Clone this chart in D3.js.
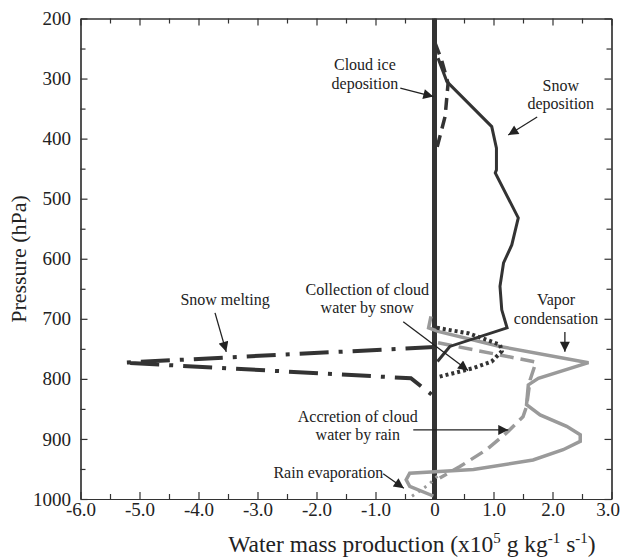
<!DOCTYPE html>
<html>
<head>
<meta charset="utf-8">
<script src="https://cdn.jsdelivr.net/npm/d3@7"></script>
<style>
  body { margin: 0; background: #fff; }
  svg text { font-family: "Liberation Serif", "Times New Roman", serif; }
</style>
</head>
<body>
<svg id="chartSVG" width="621" height="558"></svg>
<script>
// axis ticks
const xTicks = [-6, -5, -4, -3, -2, -1, 0, 1, 2, 3];
const yTicks = [200, 300, 400, 500, 600, 700, 800, 900, 1000];

// snow deposition (dark solid)
const snowDepP = [266, 305, 380, 416, 452, 457, 532, 577, 607, 646, 685, 715, 746, 771];
const snowDepX = [0.06, 0.21, 0.97, 1.05, 1.05, 1.03, 1.42, 1.31, 1.17, 1.11, 1.14, 1.23, 0.26, 0.05];

// cloud ice deposition (dark dashed)
const cloudIceP = [241, 269, 308, 363, 397, 416];
const cloudIceX = [0.01, 0.12, 0.23, 0.18, 0.09, 0.04];

// snow melting (dark dash-dot)
const meltP = [747, 773, 799, 826];
const meltX = [0.0, -5.27, -0.4, -0.05];

// collection of cloud water by snow (dark dotted)
const collectP = [715, 724, 743, 754, 771, 782, 797];
const collectX = [0.04, 0.57, 1.11, 1.14, 0.97, 0.66, 0.06];

// vapor condensation (gray solid)
const vaporP = [696, 715, 721, 746, 773, 799, 810, 843, 860, 879, 893, 904, 918, 935, 951, 957, 968, 979, 995];
const vaporX = [-0.06, -0.1, 0.06, 1.11, 2.61, 1.76, 1.59, 1.56, 1.79, 2.24, 2.47, 2.47, 2.18, 1.67, 0.66, -0.42, -0.48, -0.42, -0.02];

// accretion of cloud water by rain (gray dashed)
const accretP = [740, 772, 802, 846, 863, 890, 918, 946, 965];
const accretX = [0.06, 1.72, 1.62, 1.56, 1.5, 1.22, 0.88, 0.43, 0.09];

// rain evaporation (gray dotted)
const evapP = [962, 976, 990, 1000];
const evapX = [0.05, -0.1, -0.3, -0.45];

const dark = "#333";
const gray = "#9a9a9a";
const serif = "Liberation Serif";

const margin = { top: 18.5, right: 9.5, bottom: 59, left: 80.5 };
const width = 621 - margin.left - margin.right;
const height = 558 - margin.top - margin.bottom;

const svg = d3.select("#chartSVG");
const g = svg.append("g").attr("transform", `translate(${margin.left},${margin.top})`);

const x = d3.scaleLinear().domain([-6, 3]).range([0, width]);
const y = d3.scaleLinear().domain([200, 1000]).range([0, height]);

const halves = (lo, hi, step) => d3.range(lo, hi + 1e-9, step);
const xMinor = halves(-6, 3, 0.5).filter(v => !Number.isInteger(v));
const yMinor = halves(200, 1000, 50).filter(v => v % 100 !== 0);

// plain hyphen minus, like the original
const fmtX = d => (d === 0 ? "0" : (d < 0 ? "-" : "") + Math.abs(d).toFixed(1));

// major axes with labels
const xAxisG = g.append("g").attr("transform", `translate(0,${height})`)
  .call(d3.axisBottom(x).tickValues(xTicks).tickFormat(fmtX).tickSizeInner(-7).tickSizeOuter(0).tickPadding(3.5));
xAxisG.selectAll("text").attr("font-size", 19).attr("font-family", serif).attr("fill", "#222");
// keep the last label inside the window
xAxisG.selectAll(".tick").filter(d => d === 3).select("text").attr("dx", -4);

g.append("g")
  .call(d3.axisLeft(y).tickValues(yTicks).tickFormat(d3.format("d")).tickSizeInner(-7).tickSizeOuter(0).tickPadding(9.5))
  .call(a => a.selectAll("text").attr("font-size", 19).attr("font-family", serif).attr("fill", "#222"));
g.append("g")
  .call(d3.axisTop(x).tickValues(xTicks).tickFormat("").tickSizeInner(-7).tickSizeOuter(0));
g.append("g").attr("transform", `translate(${width},0)`)
  .call(d3.axisRight(y).tickValues(yTicks).tickFormat("").tickSizeInner(-7).tickSizeOuter(0));

// minor ticks
g.append("g").attr("transform", `translate(0,${height})`)
  .call(d3.axisBottom(x).tickValues(xMinor).tickFormat("").tickSizeInner(-5).tickSizeOuter(0));
g.append("g")
  .call(d3.axisTop(x).tickValues(xMinor).tickFormat("").tickSizeInner(-5).tickSizeOuter(0));
g.append("g")
  .call(d3.axisLeft(y).tickValues(yMinor).tickFormat("").tickSizeInner(-5).tickSizeOuter(0));
g.append("g").attr("transform", `translate(${width},0)`)
  .call(d3.axisRight(y).tickValues(yMinor).tickFormat("").tickSizeInner(-5).tickSizeOuter(0));

g.selectAll(".domain, .tick line").attr("stroke", "#333").attr("stroke-width", 1.2);

// zero line
g.append("line")
  .attr("x1", x(0)).attr("x2", x(0)).attr("y1", y(200)).attr("y2", y(1000))
  .attr("stroke", dark).attr("stroke-width", 5);

const line = d3.line().x(d => x(d[0])).y(d => y(d[1]));
function drawSeries(xs, ps, color, w, dash) {
  g.append("path")
    .datum(xs.map((v, i) => [v, ps[i]]))
    .attr("d", line)
    .attr("fill", "none")
    .attr("stroke", color)
    .attr("stroke-width", w)
    .attr("stroke-dasharray", dash)
    .attr("stroke-linejoin", "miter");
}

drawSeries(vaporX, vaporP, gray, 3.5, null);
drawSeries(accretX, accretP, gray, 3.5, "14,7");
drawSeries(evapX, evapP, gray, 3, "2.5,5");
drawSeries(snowDepX, snowDepP, dark, 3, null);
drawSeries(cloudIceX, cloudIceP, dark, 3.5, "12,7");
drawSeries(meltX, meltP, dark, 4, "29,10,4,10");
drawSeries(collectX, collectP, dark, 4, "3,3");

// arrow marker
svg.append("defs").append("marker")
  .attr("id", "arr").attr("viewBox", "0 0 10 10")
  .attr("refX", 10).attr("refY", 5)
  .attr("markerUnits", "userSpaceOnUse")
  .attr("markerWidth", 12).attr("markerHeight", 10)
  .attr("orient", "auto")
  .append("path").attr("d", "M0,0 L10,5 L0,10 Z").attr("fill", "#222");

// annotations: text lines at data coords, arrows from/to data coords
const notes = [
  { lines: ["Cloud ice", "deposition"], tx: -1.18, tp: [286, 317], anchor: "middle", from: [-0.58, 316], to: [-0.02, 330] },
  { lines: ["Snow", "deposition"], tx: 2.14, tp: [321, 351], anchor: "middle", from: [1.74, 364], to: [1.25, 394] },
  { lines: ["Snow melting"], tx: -3.55, tp: [677], anchor: "middle", from: [-3.72, 690], to: [-3.53, 755] },
  { lines: ["Collection of cloud", "water by snow"], tx: -1.14, tp: [660, 691], anchor: "middle", from: [-0.53, 705], to: [0.57, 786] },
  { lines: ["Vapor", "condensation"], tx: 2.06, tp: [677, 708], anchor: "middle", from: [2.21, 722], to: [2.21, 755] },
  { lines: ["Accretion of cloud", "water by rain"], tx: -1.3, tp: [871, 902], anchor: "middle", from: [-0.36, 885], to: [1.25, 885] },
  { lines: ["Rain evaporation"], tx: -0.87, tp: [965], anchor: "end", from: [-0.87, 958], to: [-0.52, 982] }
];

notes.forEach(n => {
  n.lines.forEach((t, i) => {
    g.append("text")
      .attr("x", x(n.tx)).attr("y", y(n.tp[i]))
      .attr("text-anchor", n.anchor)
      .attr("font-size", 16)
      .attr("font-family", serif)
      .attr("fill", "#222")
      .text(t);
  });
  g.append("line")
    .attr("x1", x(n.from[0])).attr("y1", y(n.from[1]))
    .attr("x2", x(n.to[0])).attr("y2", y(n.to[1]))
    .attr("stroke", "#222").attr("stroke-width", 1.3)
    .attr("marker-end", "url(#arr)");
});

// axis titles
svg.append("text")
  .attr("transform", "translate(26,259) rotate(-90)")
  .attr("text-anchor", "middle")
  .attr("font-size", 22)
  .attr("font-family", serif)
  .attr("fill", "#222")
  .text("Pressure (hPa)");

const xt = svg.append("text")
  .attr("x", 412).attr("y", 552)
  .attr("text-anchor", "middle")
  .attr("font-size", 23.5)
  .attr("font-family", serif)
  .attr("fill", "#222");
xt.append("tspan").text("Water mass production (x10");
xt.append("tspan").attr("font-size", 15).attr("dy", -9).text("5");
xt.append("tspan").attr("dy", 9).text(" g kg");
xt.append("tspan").attr("font-size", 15).attr("dy", -9).text("-1");
xt.append("tspan").attr("dy", 9).text(" s");
xt.append("tspan").attr("font-size", 15).attr("dy", -9).text("-1");
xt.append("tspan").attr("dy", 9).text(")");
</script>
</body>
</html>
